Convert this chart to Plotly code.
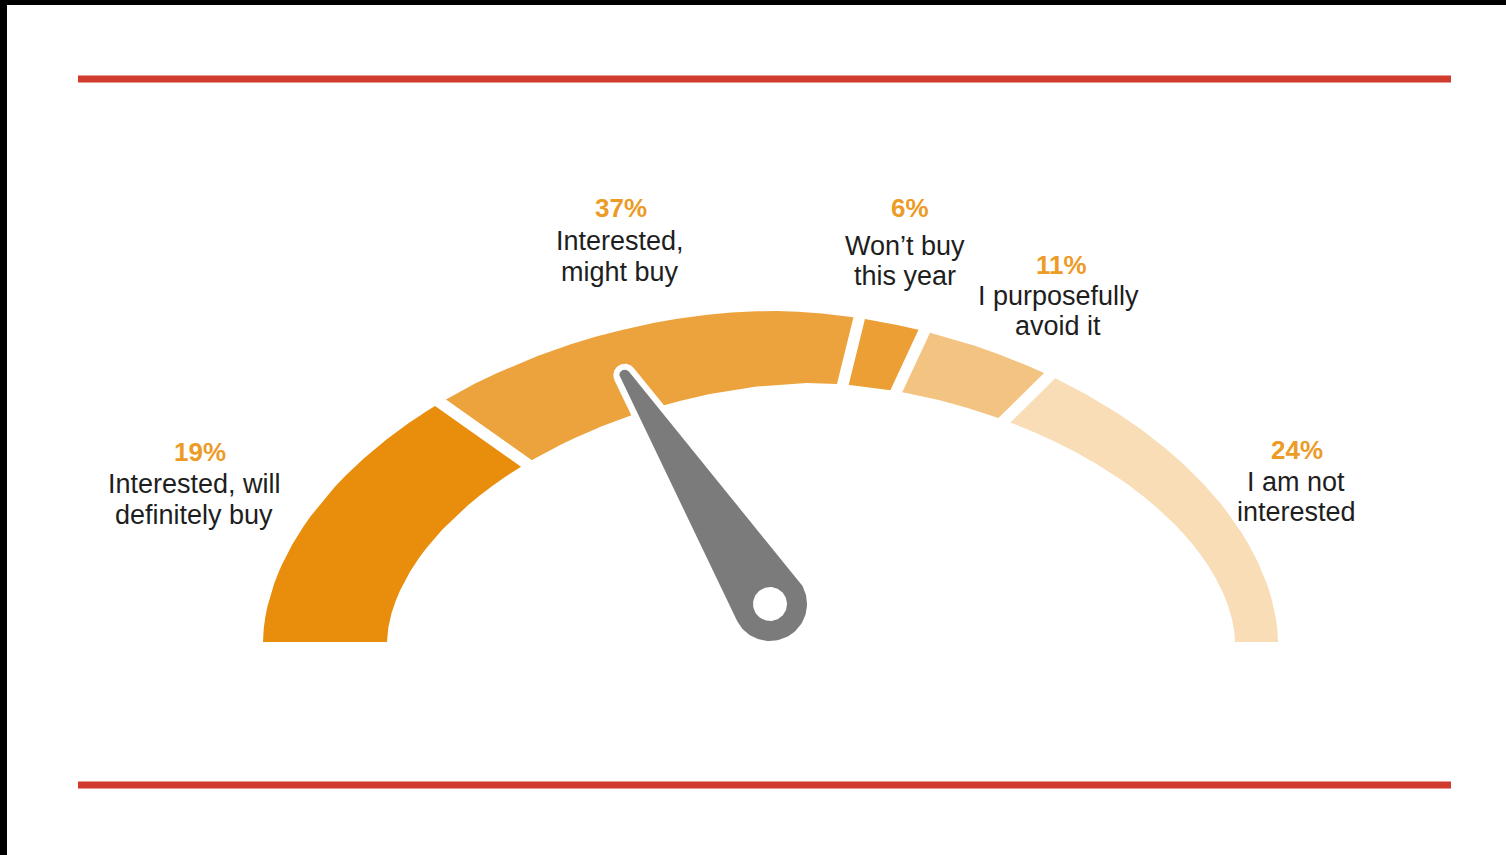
import numpy as np
import plotly.graph_objects as go

# ---------------- data ----------------
CATEGORIES = ["Interested, will definitely buy", "Interested, might buy",
              "Won't buy this year", "I purposefully avoid it", "I am not interested"]
VALUES = [19, 37, 6, 11, 24]
PCT_LABELS = ["19%", "37%", "6%", "11%", "24%"]
LABEL_LINES = [["Interested, will", "definitely buy"],
               ["Interested,", "might buy"],
               ["Won\u2019t buy", "this year"],
               ["I purposefully", "avoid it"],
               ["I am not", "interested"]]
NEEDLE_VALUE = 32  # needle position, percent of the dial

# ---------------- style ----------------
W, H = 1506, 855
SEG_COLORS = ["#E98E0C", "#EDA33D", "#EC9F34", "#F3C381", "#F8DDB6"]
PCT_COLOR = "#EC9B27"
TEXT_COLOR = "#1E1E1E"
NEEDLE_COLOR = "#7B7B7B"
RED = "#CF3B2C"
FONT = "Liberation Sans, Arial, Helvetica, sans-serif"

CX, CY = 779.0, 642.0               # dial centre (angles measured from here)
OUT_C, OUT_A, OUT_B, OUT_N = 770.5, 507.5, 331.0, 1.85
IN_C, IN_A, IN_B, IN_N = 811.0, 424.0, 259.0, 1.8
GAP = 11.5

# label anchor (centre x, centre y of percent line) and line centres
LABEL_POS = [(200, 452, 194, [484, 515]),
             (621, 208, 620, [241, 272]),
             (910, 208, 905, [246, 276]),
             (1061, 265, 1058, [296, 326]),
             (1297, 450, 1296, [482, 512])]

PIVOT = (770.0, 604.0)
NEEDLE_LEN = 271.0
R_BASE, R_TIP, R_HOLE, HALO = 37.0, 5.5, 17.0, 6.0


def superellipse(cx, a, b, n, m=12000):
    t = np.linspace(np.pi, 0, m)
    c, s = np.cos(t), np.sin(t)
    x = cx + a * np.sign(c) * np.abs(c) ** (2.0 / n)
    y = CY - b * np.abs(s) ** (2.0 / n)
    return x, y


def hull(pts):
    pts = sorted(set(map(tuple, np.round(pts, 4))))
    def cross(o, a, b):
        return (a[0]-o[0])*(b[1]-o[1]) - (a[1]-o[1])*(b[0]-o[0])
    lower, upper = [], []
    for p in pts:
        while len(lower) >= 2 and cross(lower[-2], lower[-1], p) <= 0:
            lower.pop()
        lower.append(p)
    for p in reversed(pts):
        while len(upper) >= 2 and cross(upper[-2], upper[-1], p) <= 0:
            upper.pop()
        upper.append(p)
    h = lower[:-1] + upper[:-1]
    h.append(h[0])
    return np.array(h)


def circle(c, r, n=120):
    a = np.linspace(0, 2*np.pi, n)
    return np.column_stack([c[0] + r*np.cos(a), c[1] + r*np.sin(a)])


fig = go.Figure()

ox, oy = superellipse(OUT_C, OUT_A, OUT_B, OUT_N)
ix, iy = superellipse(IN_C, IN_A, IN_B, IN_N)

total = float(sum(VALUES))
cum = np.concatenate([[0], np.cumsum(VALUES)])
for i, v in enumerate(VALUES):
    th_hi = np.pi * (1 - cum[i] / total)
    th_lo = np.pi * (1 - cum[i+1] / total)
    g_hi = 0 if i == 0 else GAP / 2
    g_lo = 0 if i == len(VALUES) - 1 else GAP / 2

    def keep(x, y):
        px, py = x - CX, CY - y
        c_lo = np.cos(th_lo) * py - np.sin(th_lo) * px
        c_hi = np.cos(th_hi) * py - np.sin(th_hi) * px
        ok_lo = (c_lo >= g_lo) if i < len(VALUES) - 1 else (py >= 0)
        ok_hi = (c_hi <= -g_hi) if i > 0 else (py >= 0)
        return ok_lo & ok_hi
    ko, ki = keep(ox, oy), keep(ix, iy)
    xs = np.concatenate([ox[ko], ix[ki][::-1], ox[ko][:1]])
    ys = np.concatenate([oy[ko], iy[ki][::-1], oy[ko][:1]])
    fig.add_trace(go.Scatter(x=xs, y=ys, mode="lines", fill="toself",
                             fillcolor=SEG_COLORS[i], line=dict(width=0, color=SEG_COLORS[i]),
                             name=CATEGORIES[i], hoverinfo="name"))

# needle
phi = np.pi * (1 - NEEDLE_VALUE / 100.0)
tip = (PIVOT[0] + NEEDLE_LEN*np.cos(phi), PIVOT[1] - NEEDLE_LEN*np.sin(phi))
halo = hull(np.vstack([circle(PIVOT, R_BASE + HALO), circle(tip, R_TIP + HALO)]))
body = hull(np.vstack([circle(PIVOT, R_BASE), circle(tip, R_TIP)]))
hole = circle(PIVOT, R_HOLE)
for shp, col in [(halo, "white"), (body, NEEDLE_COLOR), (hole, "white")]:
    fig.add_trace(go.Scatter(x=shp[:, 0], y=shp[:, 1], mode="lines", fill="toself",
                             fillcolor=col, line=dict(width=0, color=col), hoverinfo="skip"))

# labels
for i in range(len(VALUES)):
    px_, py_, lx, lys = LABEL_POS[i]
    fig.add_annotation(x=px_, y=py_, text="<b>%s</b>" % PCT_LABELS[i], showarrow=False,
                       xanchor="center", yanchor="middle",
                       font=dict(family=FONT, size=26, color=PCT_COLOR))
    for line, ly in zip(LABEL_LINES[i], lys):
        fig.add_annotation(x=lx, y=ly, text=line, showarrow=False,
                           xanchor="center", yanchor="middle",
                           font=dict(family=FONT, size=27, color=TEXT_COLOR))

shapes = [
    dict(type="line", x0=78, x1=1451, y0=79, y1=79, line=dict(color=RED, width=7)),
    dict(type="line", x0=78, x1=1451, y0=785, y1=785, line=dict(color=RED, width=7)),
    dict(type="rect", x0=0, x1=W, y0=0, y1=5, fillcolor="black", line=dict(width=0)),
    dict(type="rect", x0=0, x1=7, y0=0, y1=H, fillcolor="black", line=dict(width=0)),
]

fig.update_layout(
    width=W, height=H, margin=dict(l=0, r=0, t=0, b=0),
    paper_bgcolor="white", plot_bgcolor="white", showlegend=False,
    xaxis=dict(range=[0, W], visible=False, fixedrange=True),
    yaxis=dict(range=[H, 0], visible=False, fixedrange=True),
    shapes=shapes,
)

fig.write_html("out.html", config={"displayModeBar": False},
               post_script="document.body.style.margin='0px';"
                           "document.body.style.overflow='hidden';"
                           "document.body.style.background='white';")
